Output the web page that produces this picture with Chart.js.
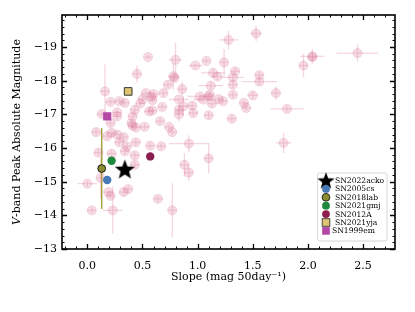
<!DOCTYPE html>
<html>
<head>
<meta charset="utf-8">
<script src="https://cdn.jsdelivr.net/npm/chart.js@4.4.1/dist/chart.umd.min.js"></script>
<style>
  html, body { margin: 0; padding: 0; background: #fff; }
  #wrap { width: 415px; height: 312px; }
</style>
</head>
<body>
<div id="wrap"><canvas id="chart" width="415" height="312"></canvas></div>
<script>
// comparison sample (pink points)
const slope = [1.53, 1.28, 2.45, 2.04, 2.04, 1.96, 0.55, 0.80, 1.08, 1.24,
  0.98, 0.45, 0.78, 0.79, 1.14, 1.18, 1.34, 1.32, 1.56, 1.56,
  1.12, 1.32, 0.73, 0.86, 0.16, 0.53, 0.60, 0.69, 1.02, 1.10,
  1.11, 1.32, 1.71, 1.50, 1.19, 1.05, 0.58, 0.50, 0.59, 0.83,
  1.23, 0.21, 0.29, 0.34, 0.48, 0.68, 0.87, 0.95, 1.42, 1.13,
  1.44, 1.81, 0.83, 0.96, 0.83, 1.10, 1.31, 0.13, 0.27, 0.27,
  0.41, 0.43, 0.56, 0.59, 0.21, 0.40, 0.44, 0.41, 0.52, 0.66,
  0.74, 0.77, 0.22, 0.08, 0.18, 0.27, 0.33, 0.29, 0.36, 0.34,
  0.44, 0.43, 0.57, 0.67, 0.92, 1.10, 0.88, 0.92, 1.78, 0.10,
  0.22, 0.43, 0.12, 0.00, 0.19, 0.21, 0.33, 0.37, 0.64, 0.04,
  0.23, 0.77];
const mag = [-19.40, -19.21, -18.82, -18.72, -18.70, -18.45, -18.70, -18.62, -18.59, -18.54,
  -18.45, -18.20, -18.13, -18.08, -18.23, -18.12, -18.28, -18.10, -18.16, -17.97,
  -17.85, -17.88, -17.88, -17.75, -17.68, -17.63, -17.60, -17.63, -17.53, -17.53,
  -17.58, -17.58, -17.63, -17.56, -17.45, -17.44, -17.53, -17.45, -17.42, -17.44,
  -17.39, -17.37, -17.39, -17.34, -17.32, -17.22, -17.24, -17.26, -17.34, -17.32,
  -17.19, -17.16, -17.14, -17.04, -17.00, -16.97, -16.87, -17.01, -17.06, -16.94,
  -16.94, -17.13, -17.09, -17.11, -16.74, -16.74, -16.61, -16.66, -16.63, -16.80,
  -16.63, -16.47, -16.45, -16.47, -16.35, -16.40, -16.32, -16.17, -16.05, -15.90,
  -16.17, -15.78, -16.07, -16.05, -16.13, -15.69, -15.50, -15.27, -16.15, -15.86,
  -15.83, -15.50, -15.11, -14.94, -14.69, -14.58, -14.69, -14.78, -14.49, -14.15,
  -14.15, -14.15];
const slopeErr = [0.05, 0.09, 0.19, 0.11, 0.04, 0.04, 0.03, 0.06, 0.03, 0.04,
  0.06, 0.04, 0.05, 0.04, 0.11, 0.05, 0.04, 0.10, 0.04, 0.16,
  0.11, 0.04, 0.04, 0.04, 0.04, 0.04, 0.04, 0.04, 0.11, 0.04,
  0.04, 0.04, 0.04, 0.05, 0.04, 0.09, 0.04, 0.04, 0.04, 0.09,
  0.04, 0.04, 0.04, 0.04, 0.04, 0.04, 0.04, 0.04, 0.04, 0.04,
  0.04, 0.15, 0.04, 0.04, 0.04, 0.04, 0.04, 0.04, 0.04, 0.04,
  0.04, 0.04, 0.04, 0.04, 0.04, 0.04, 0.04, 0.04, 0.04, 0.04,
  0.04, 0.04, 0.04, 0.04, 0.04, 0.04, 0.04, 0.04, 0.04, 0.04,
  0.04, 0.04, 0.04, 0.04, 0.18, 0.04, 0.04, 0.04, 0.07, 0.04,
  0.04, 0.04, 0.04, 0.09, 0.04, 0.04, 0.04, 0.04, 0.04, 0.04,
  0.09, 0.04];
const magErr = [0.22, 0.28, 0.25, 0.22, 0.08, 0.35, 0.06, 0.50, 0.06, 0.40,
  0.06, 0.25, 0.40, 0.10, 0.10, 0.10, 0.10, 0.10, 0.10, 0.10,
  0.10, 0.10, 0.08, 0.20, 0.80, 0.08, 0.08, 0.10, 0.08, 0.08,
  0.08, 0.10, 0.20, 0.10, 0.08, 0.08, 0.08, 0.08, 0.08, 0.08,
  0.08, 0.08, 0.08, 0.08, 0.08, 0.08, 0.30, 0.10, 0.08, 0.08,
  0.10, 0.08, 0.10, 0.10, 0.20, 0.10, 0.08, 0.08, 0.08, 0.10,
  0.10, 0.15, 0.08, 0.08, 0.10, 0.10, 0.10, 0.10, 0.08, 0.08,
  0.08, 0.10, 0.10, 0.10, 0.10, 0.10, 0.10, 0.10, 0.10, 0.10,
  0.10, 0.10, 0.08, 0.08, 0.25, 0.45, 0.35, 0.25, 0.30, 0.10,
  0.10, 0.10, 0.60, 0.08, 0.10, 0.10, 0.10, 0.10, 0.10, 0.08,
  0.70, 0.80];

// highlighted supernovae
const snNames = ['SN2022acko', 'SN2005cs', 'SN2018lab', 'SN2021gmj', 'SN2012A', 'SN2021yja', 'SN1999em'];
const snSlope = [0.34, 0.18, 0.13, 0.22, 0.57, 0.37, 0.18];
const snMag = [-15.37, -15.05, -15.39, -15.62, -15.75, -17.68, -16.94];
const snSlopeErr = [0, 0, 0, 0, 0, 0.04, 0];
const snMagErr = [0, 0, 1.2, 0, 0, 0, 0];

const xTicks = [0, 0.5, 1.0, 1.5, 2.0, 2.5];
const yTicks = [-19, -18, -17, -16, -15, -14, -13];
const xLimits = [-0.23, 2.79];
const yLimits = [-19.95, -13];

const SERIF = "'DejaVu Serif', serif";
const PINK = a => 'rgba(220,118,150,' + a + ')';

// filled five point star as a point image
function makeStar(outer, fill) {
    const inner = outer * 0.42;
    const c = document.createElement('canvas');
    c.width = c.height = Math.ceil(outer * 2 + 2);
    const g = c.getContext('2d');
    g.translate(c.width / 2, c.height / 2 + outer * 0.08);
    g.beginPath();
    for (let i = 0; i < 10; i++) {
        const r = i % 2 ? inner : outer;
        const a = -Math.PI / 2 + i * Math.PI / 5;
        g.lineTo(r * Math.cos(a), r * Math.sin(a));
    }
    g.closePath();
    g.fillStyle = fill;
    g.fill();
    return c;
}

const snStyles = [
    { pointStyle: makeStar(10.5, '#000'), color: '#000', edge: '#000', radius: 10 },
    { pointStyle: 'circle', color: '#4679b8', edge: '#4679b8', radius: 4.2 },
    { pointStyle: 'circle', color: '#8d8b2f', edge: '#1a1a1a', radius: 3.9, errColor: '#a6a33c' },
    { pointStyle: 'circle', color: '#1e8a3e', edge: '#1e8a3e', radius: 4.2 },
    { pointStyle: 'circle', color: '#8c1f50', edge: '#8c1f50', radius: 4.2 },
    { pointStyle: 'rect', color: '#dcc470', edge: '#3a3a3a', radius: 5.4, errColor: '#dcc470' },
    { pointStyle: 'rect', color: '#b446a6', edge: '#b446a6', radius: 5.8 }
];

const datasets = snNames.map((name, i) => ({
    label: name,
    data: [{ x: snSlope[i], y: snMag[i] }],
    errX: [snSlopeErr[i]],
    errY: [snMagErr[i]],
    errColor: snStyles[i].errColor || snStyles[i].color,
    errWidth: 1.5,
    pointStyle: snStyles[i].pointStyle,
    pointRadius: snStyles[i].radius,
    backgroundColor: snStyles[i].color,
    borderColor: snStyles[i].edge,
    borderWidth: snStyles[i].edge === snStyles[i].color ? 0 : 1
}));

datasets.push({
    label: 'sample',
    data: slope.map((s, i) => ({ x: s, y: mag[i] })),
    errX: slopeErr,
    errY: magErr,
    errColor: PINK(0.3),
    errWidth: 1.3,
    pointStyle: 'circle',
    pointRadius: 4.6,
    backgroundColor: PINK(0.25),
    borderColor: PINK(0.28),
    borderWidth: 0.8
});

const errorBars = {
    id: 'errorBars',
    beforeDatasetsDraw(chart) {
        const { ctx, chartArea, scales: { x, y } } = chart;
        ctx.save();
        ctx.beginPath();
        ctx.rect(chartArea.left, chartArea.top, chartArea.right - chartArea.left, chartArea.bottom - chartArea.top);
        ctx.clip();
        // draw sample first so highlighted bars sit above
        for (let d = chart.data.datasets.length - 1; d >= 0; d--) {
            const ds = chart.data.datasets[d];
            ctx.strokeStyle = ds.errColor;
            ctx.lineWidth = ds.errWidth;
            ds.data.forEach((p, i) => {
                const px = x.getPixelForValue(p.x), py = y.getPixelForValue(p.y);
                ctx.beginPath();
                if (ds.errX[i]) {
                    ctx.moveTo(x.getPixelForValue(p.x - ds.errX[i]), py);
                    ctx.lineTo(x.getPixelForValue(p.x + ds.errX[i]), py);
                }
                if (ds.errY[i]) {
                    ctx.moveTo(px, y.getPixelForValue(p.y - ds.errY[i]));
                    ctx.lineTo(px, y.getPixelForValue(p.y + ds.errY[i]));
                }
                ctx.stroke();
            });
        }
        ctx.restore();
    }
};

// frame, inward ticks on all four sides, y title, legend box
const decorations = {
    id: 'decorations',
    afterDraw(chart) {
        const { ctx, chartArea: a, scales: { x, y } } = chart;
        ctx.save();
        ctx.strokeStyle = '#000';

        ctx.lineWidth = 1;
        ctx.beginPath();
        for (let v = -0.2; v <= 2.75; v += 0.1) {
            const vv = Math.round(v * 10) / 10;
            if (Math.abs(vv * 2 - Math.round(vv * 2)) < 1e-6) continue;
            const px = Math.round(x.getPixelForValue(vv)) + 0.5;
            ctx.moveTo(px, a.bottom); ctx.lineTo(px, a.bottom - 2.5);
            ctx.moveTo(px, a.top); ctx.lineTo(px, a.top + 2.5);
        }
        for (let v = -19.8; v <= -13; v += 0.2) {
            const vv = Math.round(v * 10) / 10;
            if (Math.abs(vv - Math.round(vv)) < 1e-6) continue;
            const py = Math.round(y.getPixelForValue(vv)) + 0.5;
            ctx.moveTo(a.left, py); ctx.lineTo(a.left + 2.5, py);
            ctx.moveTo(a.right, py); ctx.lineTo(a.right - 2.5, py);
        }
        ctx.stroke();

        ctx.lineWidth = 1.3;
        ctx.beginPath();
        xTicks.forEach(v => {
            const px = Math.round(x.getPixelForValue(v)) + 0.5;
            ctx.moveTo(px, a.bottom); ctx.lineTo(px, a.bottom - 5);
            ctx.moveTo(px, a.top); ctx.lineTo(px, a.top + 5);
        });
        yTicks.forEach(v => {
            const py = Math.round(y.getPixelForValue(v)) + 0.5;
            ctx.moveTo(a.left, py); ctx.lineTo(a.left + 5, py);
            ctx.moveTo(a.right, py); ctx.lineTo(a.right - 5, py);
        });
        ctx.stroke();

        ctx.lineWidth = 1.6;
        ctx.strokeRect(a.left, a.top, a.right - a.left, a.bottom - a.top);

        // y axis title with italic V
        ctx.fillStyle = '#000';
        ctx.textBaseline = 'middle';
        ctx.translate(17, (a.top + a.bottom) / 2);
        ctx.rotate(-Math.PI / 2);
        const fItal = 'italic 11px ' + SERIF, fNorm = '11px ' + SERIF;
        const rest = '-band Peak Absolute Magnitude';
        ctx.font = fItal; const wV = ctx.measureText('V').width;
        ctx.font = fNorm; const wR = ctx.measureText(rest).width;
        let sx = -(wV + wR) / 2;
        ctx.font = fItal; ctx.textAlign = 'left'; ctx.fillText('V', sx, 0);
        ctx.font = fNorm; ctx.fillText(rest, sx + wV, 0);
        ctx.restore();

        // legend
        ctx.save();
        const bx = 317.5, by = 173, bw = 69.5, bh = 68;
        ctx.fillStyle = 'rgba(255,255,255,0.9)';
        ctx.strokeStyle = '#cccccc';
        ctx.lineWidth = 0.8;
        ctx.beginPath();
        ctx.roundRect(bx, by, bw, bh, 2);
        ctx.fill(); ctx.stroke();
        ctx.font = '7.6px ' + SERIF;
        ctx.textBaseline = 'middle';
        ctx.textAlign = 'left';
        snNames.forEach((name, i) => {
            const cy = by + 7.5 + i * 8.4, cx = 326;
            const st = snStyles[i];
            ctx.fillStyle = st.color;
            ctx.strokeStyle = st.edge;
            ctx.lineWidth = 0.9;
            if (i === 0) {
                const img = makeStar(9, '#000');
                ctx.drawImage(img, cx - img.width / 2, cy - img.height / 2);
            } else if (st.pointStyle === 'circle') {
                ctx.beginPath(); ctx.arc(cx, cy, 3.9, 0, Math.PI * 2); ctx.fill();
                if (st.edge !== st.color) ctx.stroke();
            } else {
                const s = 3.8;
                ctx.fillRect(cx - s, cy - s, 2 * s, 2 * s);
                if (st.edge !== st.color) ctx.strokeRect(cx - s, cy - s, 2 * s, 2 * s);
            }
            ctx.fillStyle = '#000';
            ctx.fillText(name, i === 6 ? 332 : 335, cy + 0.5);
        });
        ctx.restore();
    }
};

new Chart(document.getElementById('chart'), {
    type: 'scatter',
    data: { datasets },
    plugins: [errorBars, decorations],
    options: {
        responsive: false,
        animation: false,
        layout: { padding: { left: 0, right: 20, top: 15, bottom: 0 } },
        plugins: { legend: { display: false }, tooltip: { enabled: false } },
        scales: {
            x: {
                type: 'linear',
                min: xLimits[0], max: xLimits[1],
                grid: { display: false, drawTicks: false },
                border: { display: false },
                afterBuildTicks: s => { s.ticks = xTicks.map(v => ({ value: v })); },
                afterFit: s => { s.height = 63; },
                ticks: {
                    autoSkip: false, maxRotation: 0, padding: 11,
                    color: '#000', font: { family: SERIF, size: 11 },
                    callback: v => v.toFixed(1)
                },
                title: {
                    display: true, text: 'Slope (mag 50day\u207B\u00B9)',
                    color: '#000', font: { family: SERIF, size: 11 },
                    padding: { top: 0, bottom: 28 }
                }
            },
            y: {
                type: 'linear', reverse: true,
                min: yLimits[0], max: yLimits[1],
                grid: { display: false, drawTicks: false },
                border: { display: false },
                afterBuildTicks: s => { s.ticks = yTicks.map(v => ({ value: v })); },
                afterFit: s => { s.width = 62; },
                ticks: {
                    autoSkip: false, padding: 5,
                    color: '#000', font: { family: SERIF, size: 11 },
                    callback: v => (v < 0 ? '\u2212' : '') + Math.abs(v)
                }
            }
        }
    }
});
</script>
</body>
</html>
